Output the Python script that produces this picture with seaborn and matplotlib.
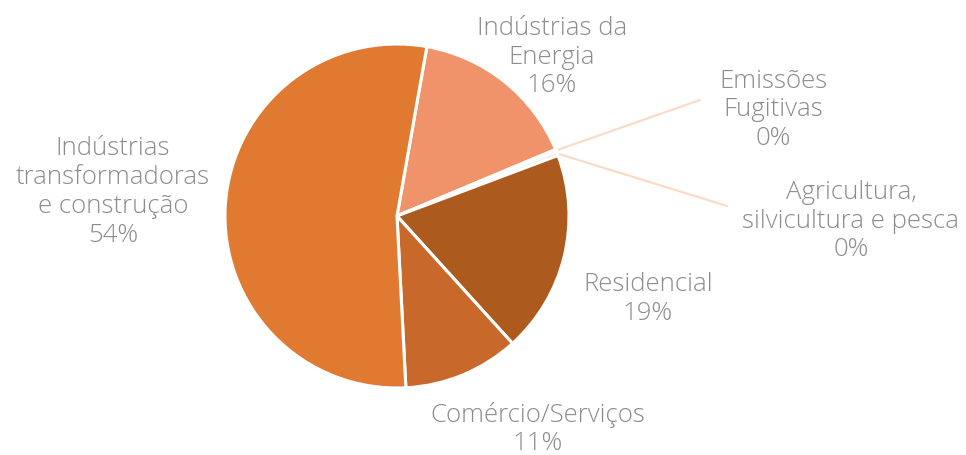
import numpy as np
import seaborn as sns
import matplotlib.pyplot as plt

# Emissions by sector (share, %), clockwise from the top
sectors = [
    "Indústrias da\nEnergia",
    "Emissões\nFugitivas",
    "Agricultura,\nsilvicultura e pesca",
    "Residencial",
    "Comércio/Serviços",
    "Indústrias\ntransformadoras\ne construção",
]
shares = [15.9, 0.2, 0.4, 19.0, 10.9, 53.6]
colors = ["#F0926A", "#F8D3BE", "#FBE3D6", "#AD5A1F", "#C8682A", "#E07A30"]

# label anchor positions (pixels, top-left origin) and whether a leader line is drawn
label_pos = [(552, 57), (773, 110), (851, 221), (648, 299), (538, 429), (113, 192)]
leader = [False, True, True, False, False, False]
leader_end = [None, (700, 100), (727, 206), None, None, None]

W, H = 966, 455
CX, CY, R = 397, 216, 172


def main() -> None:
    sns.set_theme(style="white")
    plt.rcParams["font.family"] = ["Open Sans", "DejaVu Sans"]

    fig = plt.figure(figsize=(W / 100, H / 100), dpi=100)
    ax = fig.add_axes([0, 0, 1, 1])

    wedges, _ = ax.pie(
        shares,
        colors=colors,
        startangle=80,
        counterclock=False,
        center=(CX, H - CY),
        radius=R,
        frame=True,
        wedgeprops=dict(edgecolor="white", linewidth=2.2),
    )
    ax.set_xlim(0, W)
    ax.set_ylim(0, H)
    ax.set_aspect("equal")
    ax.axis("off")

    for w, name, share, pos, has_line, end in zip(wedges, sectors, shares, label_pos, leader, leader_end):
        text = f"{name}\n{round(share):.0f}%"
        ax.text(pos[0], H - pos[1], text, ha="center", va="center",
                fontsize=18.5, color="#8C8C8C", fontweight="light", linespacing=1.2)
        if has_line:
            ang = np.deg2rad((w.theta1 + w.theta2) / 2)
            x0 = CX + R * np.cos(ang)
            y0 = (H - CY) + R * np.sin(ang)
            ax.plot([x0, end[0]], [y0, H - end[1]], color="#FAD9C6", lw=1.5, zorder=0)

    fig.savefig("out.png", dpi=100, facecolor="white")
    plt.close(fig)


if __name__ == "__main__":
    main()
